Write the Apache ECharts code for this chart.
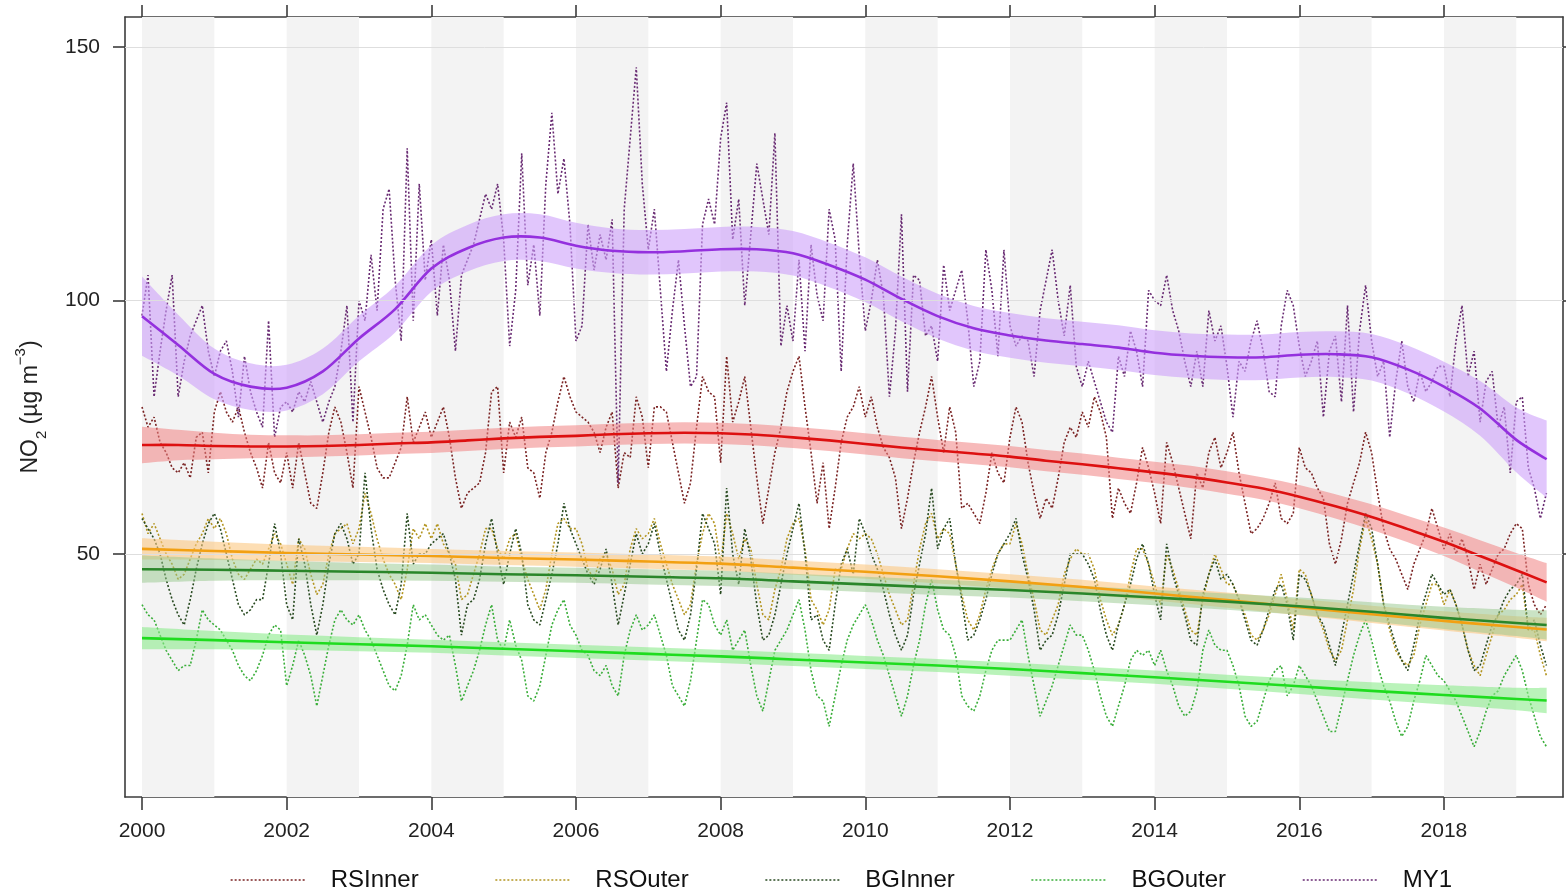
<!DOCTYPE html>
<html>
<head>
<meta charset="utf-8">
<script src="https://cdn.jsdelivr.net/npm/echarts@6/dist/echarts.min.js"></script>
<style>
  html, body { margin: 0; padding: 0; background: #ffffff; }
  #chart { width: 1566px; height: 894px; }
</style>
</head>
<body>
<div id="chart"></div>
<script>
// Monthly mean NO2 (µg m-3), January 2000 onwards, one row per year
const startYear = 2000;
const seriesNames = ['RSInner', 'RSOuter', 'BGInner', 'BGOuter', 'MY1'];

const rsInner = [
  79, 75, 77, 72, 70, 67, 66, 68, 65, 73, 74, 66,
  78, 82, 78, 76, 79, 74, 70, 67, 63, 72, 66, 64,
  70, 63, 72, 66, 60, 59, 66, 74, 79, 76, 70, 63,
  83, 78, 73, 67, 65, 65, 68, 71, 81, 72, 75, 78,
  73, 76, 79, 73, 65, 59, 62, 63, 64, 70, 82, 83,
  66, 76, 73, 77, 67, 66, 61, 70, 74, 80, 85, 81,
  78, 77, 76, 74, 70, 75, 78, 63, 70, 69, 81, 77,
  67, 79, 79, 78, 72, 66, 60, 64, 75, 85, 82, 81,
  68, 89, 76, 80, 85, 75, 65, 56, 63, 70, 75, 82,
  86, 89, 79, 70, 60, 68, 55, 63, 72, 77, 79, 83,
  77, 81, 75, 71, 69, 65, 55, 61, 68, 74, 79, 85,
  77, 70, 79, 74, 59, 60, 58, 56, 62, 70, 66, 64,
  73, 79, 76, 68, 62, 57, 61, 59, 65, 72, 75, 73,
  78, 75, 81, 78, 73, 57, 63, 60, 58, 64, 71, 67,
  62, 56, 72, 68, 63, 58, 53, 66, 63, 70, 73, 67,
  70, 74, 66, 60, 54, 55, 57, 60, 64, 57, 56, 58,
  71, 67, 66, 63, 61, 52, 48, 53, 60, 64, 68, 74,
  70, 62, 55, 51, 49, 46, 43, 48, 51, 54, 59, 55,
  51, 54, 50, 53, 49, 43, 48, 44, 47, 50, 51, 54,
  56, 55, 44, 40, 38, 40
];

const rsOuter = [
  58, 54, 56, 53, 50, 48, 45, 46, 49, 52, 54, 57,
  55, 57, 54, 49, 46, 45, 47, 49, 48, 51, 54, 52,
  48, 44, 53, 51, 46, 42, 44, 50, 54, 55, 56, 52,
  55, 62, 58, 53, 49, 46, 44, 41, 47, 55, 53, 56,
  53, 56, 52, 50, 48, 41, 42, 46, 50, 55, 55, 51,
  49, 53, 54, 49, 45, 42, 39, 43, 50, 56, 57, 55,
  55, 52, 47, 45, 49, 50, 47, 42, 44, 51, 55, 53,
  54, 57, 52, 48, 44, 41, 38, 40, 48, 54, 58, 56,
  48, 58, 54, 49, 53, 51, 44, 38, 37, 43, 47, 53,
  56, 57, 51, 41, 39, 36, 39, 47, 47, 51, 54, 53,
  54, 53, 50, 46, 42, 39, 36, 37, 44, 51, 56, 58,
  53, 55, 54, 48, 42, 37, 35, 38, 43, 47, 50, 52,
  52, 56, 52, 46, 41, 35, 34, 37, 40, 46, 49, 51,
  50, 50, 47, 41, 37, 34, 36, 40, 46, 51, 51, 48,
  44, 40, 50, 47, 43, 39, 35, 34, 41, 46, 50, 47,
  44, 44, 41, 38, 34, 33, 35, 38, 42, 46, 41, 35,
  47, 46, 42, 38, 35, 31, 29, 31, 37, 43, 51, 57,
  53, 48, 40, 35, 31, 29, 28, 30, 36, 40, 44, 44,
  40, 43, 40, 36, 31, 28, 26, 30, 34, 38, 39, 41,
  42, 44, 35, 35, 30, 26
];

const bgInner = [
  57, 55, 53, 50, 45, 41, 38, 36, 41, 47, 52, 56,
  58, 55, 50, 45, 40, 38, 39, 41, 41, 48, 56, 50,
  40, 37, 53, 48, 40, 34, 40, 48, 54, 56, 53, 48,
  50, 66, 55, 47, 43, 40, 38, 44, 58, 48, 50, 50,
  52, 53, 54, 50, 45, 34, 40, 41, 45, 52, 57, 50,
  44, 50, 55, 50, 40, 37, 36, 41, 46, 52, 60, 55,
  52, 49, 46, 44, 47, 51, 44, 36, 42, 48, 54, 50,
  52, 56, 50, 45, 40, 35, 33, 38, 47, 58, 55, 52,
  42, 63, 50, 44, 55, 49, 40, 33, 34, 38, 44, 50,
  55, 60, 50, 37, 38, 33, 31, 40, 48, 51, 46, 57,
  54, 50, 47, 43, 38, 34, 31, 34, 42, 48, 54, 63,
  51, 55, 57, 48, 41, 33, 34, 37, 41, 46, 50, 52,
  54, 57, 50, 45, 39, 31, 33, 34, 38, 44, 50, 50,
  50, 48, 45, 39, 34, 31, 36, 40, 44, 49, 52, 48,
  42, 37, 52, 46, 42, 38, 33, 32, 42, 46, 49, 45,
  46, 44, 41, 37, 33, 32, 35, 39, 43, 44, 40, 33,
  46, 45, 42, 38, 36, 32, 28, 34, 40, 46, 52, 58,
  55, 48, 40, 36, 32, 29, 27, 32, 38, 42, 46, 44,
  42, 43, 40, 36, 31, 27, 28, 32, 36, 38, 41, 43,
  44, 46, 35, 37, 32, 28
];

const bgOuter = [
  40, 38, 37, 34, 31, 29, 27, 28, 28, 33, 39, 37,
  36, 35, 33, 31, 28, 26, 25, 27, 30, 34, 36, 35,
  24, 28, 33, 30, 26, 20, 26, 32, 37, 39, 37, 36,
  38, 35, 33, 30, 27, 24, 23, 26, 32, 40, 37, 38,
  36, 34, 33, 34, 28, 21, 24, 27, 31, 36, 40, 33,
  31, 37, 32, 29, 22, 21, 24, 30, 36, 39, 41, 36,
  34, 31, 30, 27, 26, 28, 24, 22, 30, 35, 38, 35,
  36, 38, 34, 30, 24, 22, 20, 25, 33, 41, 40, 36,
  34, 37, 31, 33, 35, 28, 22, 19, 25, 31, 33, 35,
  38, 41, 35, 27, 22, 21, 16, 22, 28, 33, 36, 38,
  40, 37, 33, 30, 26, 22, 18, 22, 28, 33, 40, 45,
  39, 35, 34, 30, 22, 20, 19, 22, 27, 31, 33, 33,
  33, 35, 37, 30, 24, 18, 21, 24, 28, 32, 36, 34,
  34, 31, 27, 22, 18, 16, 20, 24, 29, 31, 30, 31,
  28, 31, 27, 24, 20, 18, 19, 23, 31, 35, 32, 31,
  31, 28, 24, 18, 16, 17, 21, 25, 27, 28, 22, 24,
  28, 26, 24, 21, 18, 15, 15, 20, 25, 30, 34, 37,
  33, 28, 24, 21, 17, 14, 16, 21, 25, 30, 28, 26,
  25, 23, 21, 18, 15, 12, 15, 19, 22, 23, 26, 28,
  30, 27, 22, 18, 14, 12
];

const my1 = [
  97, 105, 81, 90, 98, 105, 81, 88, 93, 96, 99, 90,
  85, 90, 92, 86, 77, 89, 82, 78, 75, 96, 73, 79,
  80, 78, 82, 80, 84, 80, 76, 80, 83, 90, 99, 76,
  100, 96, 109, 98, 118, 122, 104, 92, 130, 96, 123, 104,
  112, 97, 111, 104, 90, 105, 108, 111, 116, 121, 118, 123,
  112, 91, 102, 129, 103, 111, 97, 123, 137, 121, 128, 115,
  92, 95, 115, 106, 113, 108, 116, 64, 118, 132, 146, 123,
  110, 118, 102, 86, 98, 108, 95, 83, 85, 115, 120, 115,
  132, 139, 112, 120, 99, 113, 127, 120, 113, 133, 91, 99,
  92, 108, 90, 111, 101, 96, 118, 112, 86, 111, 127, 109,
  94, 100, 108, 101, 81, 94, 117, 82, 105, 104, 93, 95,
  88, 107, 98, 102, 106, 96, 83, 88, 110, 102, 89, 110,
  95, 91, 93, 92, 85, 98, 104, 110, 100, 93, 103, 87,
  83, 88, 84, 80, 76, 74, 89, 85, 94, 90, 83, 102,
  100, 99, 105, 98, 94, 88, 83, 90, 83, 98, 92, 95,
  87, 77, 88, 86, 92, 96, 90, 82, 81, 95, 102, 99,
  91, 85, 88, 92, 77, 90, 93, 80, 99, 78, 94, 103,
  92, 85, 88, 73, 84, 92, 83, 80, 86, 82, 84, 87,
  87, 81, 92, 99, 85, 90, 76, 84, 86, 75, 79, 66,
  80, 81, 67, 63, 57, 62
];

// Smooth trend estimates and half-widths of their confidence bands
const trendYearsFine = [
  2000, 2000.5, 2001, 2001.5, 2002, 2002.5, 2003, 2003.5, 2004, 2004.5,
  2005, 2005.5, 2006, 2006.5, 2007, 2007.5, 2008, 2008.5, 2009, 2009.5,
  2010, 2010.5, 2011, 2011.5, 2012, 2012.5, 2013, 2013.5, 2014, 2014.5,
  2015, 2015.5, 2016, 2016.5, 2017, 2017.5, 2018, 2018.5, 2019, 2019.42
];
const my1Trend = [
  96.9, 91.2, 85.5, 83.0, 82.8, 86.0, 92.5, 98.3, 106.3, 110.3,
  112.4, 112.4, 110.8, 109.8, 109.5, 109.7, 110.1, 110.1, 109.3, 107.0,
  104.1, 100.3, 96.9, 94.5, 93.1, 92.1, 91.4, 90.7, 89.7, 89.1,
  88.8, 88.8, 89.3, 89.4, 88.8, 86.4, 83.0, 78.7, 72.5, 68.7
];
const my1Band = [
  7.8, 6.0, 5.0, 4.6, 4.5, 4.5, 4.5, 4.6, 4.6, 4.6,
  4.6, 4.6, 4.5, 4.4, 4.4, 4.4, 4.4, 4.4, 4.4, 4.4,
  4.4, 4.4, 4.4, 4.4, 4.4, 4.4, 4.4, 4.4, 4.4, 4.4,
  4.5, 4.5, 4.5, 4.5, 4.6, 4.7, 4.9, 5.4, 6.4, 7.6
];
const rsInnerTrend = [
  71.5, 71.5, 71.3, 71.2, 71.2, 71.3, 71.5, 71.8, 72.0, 72.4,
  72.8, 73.1, 73.3, 73.6, 73.8, 73.9, 73.8, 73.5, 73.0, 72.4,
  71.7, 71.0, 70.4, 69.8, 69.2, 68.4, 67.7, 66.9, 66.1, 65.2,
  64.1, 62.9, 61.3, 59.4, 57.3, 54.9, 52.4, 49.6, 46.8, 44.4
];
const rsInnerBand = [
  3.6, 3.0, 2.6, 2.3, 2.2, 2.1, 2.1, 2.1, 2.1, 2.1,
  2.1, 2.1, 2.1, 2.1, 2.1, 2.1, 2.1, 2.1, 2.1, 2.1,
  2.1, 2.1, 2.1, 2.1, 2.1, 2.1, 2.1, 2.1, 2.1, 2.2,
  2.2, 2.2, 2.3, 2.4, 2.5, 2.6, 2.8, 3.1, 3.4, 3.8
];

const trendYears = [
  2000, 2001, 2002, 2003, 2004, 2005, 2006, 2007, 2008, 2009,
  2010, 2011, 2012, 2013, 2014, 2015, 2016, 2017, 2018, 2019, 2019.42
];
const rsOuterTrend = [51.0, 50.6, 50.2, 49.9, 49.6, 49.2, 48.9, 48.5, 48.1, 47.3, 46.5, 45.6, 44.6, 43.5, 42.2, 40.9, 39.5, 38.1, 36.8, 35.6, 35.1];
const rsOuterBand  = [2.1, 1.8, 1.6, 1.5, 1.4, 1.4, 1.4, 1.4, 1.4, 1.4, 1.4, 1.4, 1.4, 1.4, 1.4, 1.5, 1.6, 1.7, 1.9, 2.1, 2.3];
const bgInnerTrend = [47.0, 46.9, 46.7, 46.5, 46.3, 46.0, 45.8, 45.5, 45.2, 44.6, 44.0, 43.4, 42.9, 42.2, 41.4, 40.6, 39.7, 38.6, 37.4, 36.4, 36.0];
const bgInnerBand  = [2.7, 2.2, 1.9, 1.7, 1.6, 1.5, 1.5, 1.5, 1.5, 1.5, 1.5, 1.5, 1.5, 1.5, 1.5, 1.6, 1.7, 1.9, 2.2, 2.6, 2.9];
const bgOuterTrend = [33.4, 33.0, 32.6, 32.2, 31.8, 31.3, 30.8, 30.3, 29.8, 29.2, 28.6, 28.0, 27.3, 26.5, 25.7, 24.8, 23.9, 23.0, 22.2, 21.4, 21.1];
const bgOuterBand  = [2.2, 1.8, 1.5, 1.4, 1.3, 1.3, 1.3, 1.3, 1.3, 1.3, 1.3, 1.3, 1.3, 1.3, 1.3, 1.4, 1.5, 1.7, 1.9, 2.2, 2.5];

// Axis ticks and the alternating year stripes
const xTickYears = [2000, 2002, 2004, 2006, 2008, 2010, 2012, 2014, 2016, 2018];
const yTickValues = [50, 100, 150];
const stripeStartYears = [2000, 2002, 2004, 2006, 2008, 2010, 2012, 2014, 2016, 2018];

const FONT = "'Liberation Sans', Arial, sans-serif";
const AXIS_COLOR = '#3c3c3c';

const styles = {
  RSInner: { dot: '#7a2222', line: '#dd1010', band: 'rgba(240,130,130,0.55)' },
  RSOuter: { dot: '#b39520', line: '#f2a012', band: 'rgba(252,200,130,0.6)' },
  BGInner: { dot: '#284a20', line: '#2a862a', band: 'rgba(150,200,140,0.5)' },
  BGOuter: { dot: '#3aae3a', line: '#1fdc1f', band: 'rgba(140,235,140,0.6)' },
  MY1:     { dot: '#682a72', line: '#9430de', band: 'rgba(205,160,250,0.6)' }
};

const monthlyData = { RSInner: rsInner, RSOuter: rsOuter, BGInner: bgInner, BGOuter: bgOuter, MY1: my1 };
const trendData = {
  RSInner: [trendYearsFine, rsInnerTrend, rsInnerBand],
  RSOuter: [trendYears, rsOuterTrend, rsOuterBand],
  BGInner: [trendYears, bgInnerTrend, bgInnerBand],
  BGOuter: [trendYears, bgOuterTrend, bgOuterBand],
  MY1: [trendYearsFine, my1Trend, my1Band]
};

function monthly(values) {
  return values.map((v, i) => [startYear + i / 12, v]);
}

// Cubic Bezier path through pixel points (Catmull-Rom tangents)
function curveSegments(pts) {
  let d = '';
  for (let i = 0; i < pts.length - 1; i++) {
    const p0 = pts[Math.max(i - 1, 0)];
    const p1 = pts[i];
    const p2 = pts[i + 1];
    const p3 = pts[Math.min(i + 2, pts.length - 1)];
    const c1x = p1[0] + (p2[0] - p0[0]) / 6;
    const c1y = p1[1] + (p2[1] - p0[1]) / 6;
    const c2x = p2[0] - (p3[0] - p1[0]) / 6;
    const c2y = p2[1] - (p3[1] - p1[1]) / 6;
    d += ' C' + c1x + ',' + c1y + ' ' + c2x + ',' + c2y + ' ' + p2[0] + ',' + p2[1];
  }
  return d;
}

const series = [];

// Background: year stripes and horizontal reference lines
series.push({
  name: 'background',
  type: 'line',
  data: [],
  silent: true,
  z: 0,
  markArea: {
    silent: true,
    itemStyle: { color: '#f3f3f3' },
    data: stripeStartYears.map(y => [{ xAxis: y }, { xAxis: y + 1 }])
  },
  markLine: {
    silent: true,
    symbol: 'none',
    label: { show: false },
    lineStyle: { color: '#dedede', width: 1, type: 'solid' },
    data: yTickValues.map(v => ({ yAxis: v }))
  }
});

// Monthly dotted lines
seriesNames.forEach(name => {
  series.push({
    name: name,
    type: 'line',
    data: monthly(monthlyData[name]),
    showSymbol: false,
    symbol: 'none',
    z: 2,
    lineStyle: { color: styles[name].dot, width: 1.6, type: [2, 2] },
    itemStyle: { color: styles[name].dot }
  });
});

// Confidence bands around each trend
seriesNames.forEach(name => {
  const [years, trend, half] = trendData[name];
  series.push({
    name: name + ' band',
    type: 'custom',
    silent: true,
    z: 3,
    clip: true,
    data: years.map((y, i) => [y, trend[i] - half[i], trend[i] + half[i]]),
    encode: { x: 0, y: [1, 2] },
    renderItem: (params, api) => {
      if (params.dataIndex !== 0) return null;
      const upper = years.map((y, i) => api.coord([y, trend[i] + half[i]]));
      const lower = years.map((y, i) => api.coord([y, trend[i] - half[i]])).reverse();
      const d = 'M' + upper[0][0] + ',' + upper[0][1] + curveSegments(upper) +
        ' L' + lower[0][0] + ',' + lower[0][1] + curveSegments(lower) + ' Z';
      return {
        type: 'path',
        shape: { pathData: d },
        style: { fill: styles[name].band, stroke: null }
      };
    }
  });
});

// Trend lines
seriesNames.forEach(name => {
  const [years, trend] = trendData[name];
  series.push({
    name: name + ' trend',
    type: 'custom',
    silent: true,
    z: 4,
    clip: true,
    data: years.map((y, i) => [y, trend[i]]),
    encode: { x: 0, y: 1 },
    renderItem: (params, api) => {
      if (params.dataIndex !== 0) return null;
      const pts = years.map((y, i) => api.coord([y, trend[i]]));
      const d = 'M' + pts[0][0] + ',' + pts[0][1] + curveSegments(pts);
      return {
        type: 'path',
        shape: { pathData: d },
        style: { fill: null, stroke: styles[name].line, lineWidth: 2.6 }
      };
    }
  });
});

const axisLineStyle = { color: AXIS_COLOR, width: 1.6 };

const option = {
  animation: false,
  backgroundColor: '#ffffff',
  textStyle: { fontFamily: FONT },
  grid: { left: 125, right: 3, top: 17, bottom: 97, containLabel: false },
  xAxis: [
    {
      type: 'value',
      position: 'bottom',
      min: 1999.765,
      max: 2019.646,
      axisLine: { show: true, onZero: false, lineStyle: axisLineStyle },
      axisTick: { show: true, customValues: xTickYears, length: 13, lineStyle: axisLineStyle },
      axisLabel: {
        customValues: xTickYears,
        formatter: v => String(Math.round(v)),
        margin: 24,
        fontSize: 21,
        color: '#222',
        fontFamily: FONT
      },
      splitLine: { show: false }
    },
    {
      type: 'value',
      position: 'top',
      min: 1999.765,
      max: 2019.646,
      axisLine: { show: true, onZero: false, lineStyle: axisLineStyle },
      axisTick: { show: true, customValues: xTickYears, length: 12, lineStyle: axisLineStyle },
      axisLabel: { show: false },
      splitLine: { show: false }
    }
  ],
  yAxis: [
    {
      type: 'value',
      position: 'left',
      min: 2.07,
      max: 155.9,
      axisLine: { show: true, onZero: false, lineStyle: axisLineStyle },
      axisTick: { show: true, customValues: yTickValues, length: 12, lineStyle: axisLineStyle },
      axisLabel: {
        customValues: yTickValues,
        margin: 25,
        fontSize: 21,
        color: '#222',
        fontFamily: FONT
      },
      splitLine: { show: false },
      name: '{t|NO}{sub|2}{t| (µg m}{sup|−3}{t|)}',
      nameLocation: 'middle',
      nameRotate: 90,
      nameGap: 76,
      nameTextStyle: {
        color: '#222',
        fontFamily: FONT,
        rich: {
          t: { fontSize: 23, lineHeight: 36, color: '#222', fontFamily: FONT },
          sub: { fontSize: 15, lineHeight: 20, verticalAlign: 'bottom', color: '#222', fontFamily: FONT },
          sup: { fontSize: 15, lineHeight: 20, verticalAlign: 'top', color: '#222', fontFamily: FONT }
        }
      }
    },
    {
      type: 'value',
      position: 'right',
      min: 2.07,
      max: 155.9,
      axisLine: { show: true, onZero: false, lineStyle: axisLineStyle },
      axisTick: { show: true, customValues: yTickValues, length: 6, lineStyle: axisLineStyle },
      axisLabel: { show: false },
      splitLine: { show: false }
    }
  ],
  legend: {
    data: seriesNames,
    left: 225,
    top: 863,
    itemWidth: 75,
    itemHeight: 14,
    itemGap: 76,
    itemStyle: { opacity: 0 },
    lineStyle: { width: 1.3 },
    textStyle: { fontSize: 24, color: '#111', fontFamily: FONT, padding: [0, 0, 0, 20] }
  },
  series: series
};

const chart = echarts.init(document.getElementById('chart'), null, { renderer: 'canvas' });
chart.setOption(option);
</script>
</body>
</html>
